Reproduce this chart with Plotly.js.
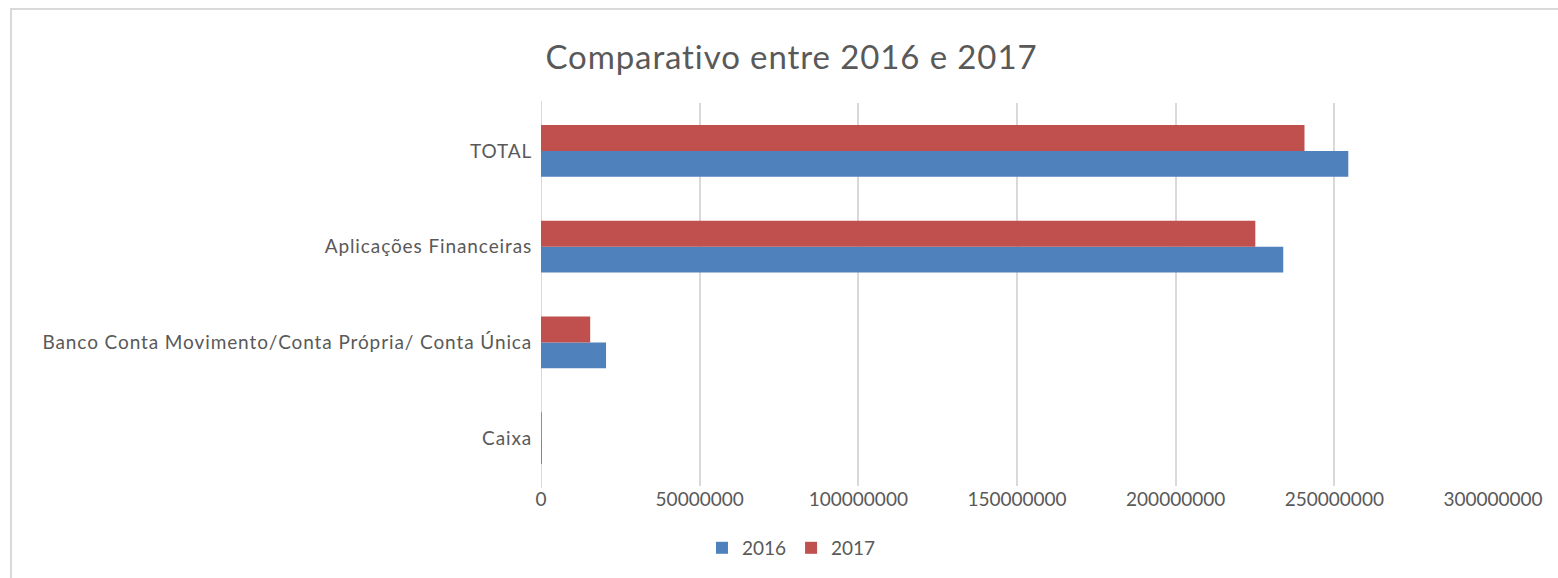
<!DOCTYPE html>
<html>
<head>
<meta charset="utf-8">
<script src="https://cdn.plot.ly/plotly-3.0.1.min.js"></script>
<style>
html,body{margin:0;padding:0;background:#fff;}
#wrap{position:relative;width:1558px;height:578px;overflow:hidden;}
#frame{position:absolute;left:10px;top:8px;width:1600px;height:620px;border-top:2px solid #d9d9d9;border-left:2px solid #d9d9d9;pointer-events:none;}
#chart{position:absolute;left:0;top:0;width:1558px;height:578px;}
#chart .ytick text{letter-spacing:0.9px;}
#chart .gtitle{letter-spacing:0.9px;}
</style>
</head>
<body>
<div id="wrap">
<div id="chart"></div>
<div id="frame"></div>
</div>
<script>
const categories = ["Caixa", "Banco Conta Movimento/Conta Própria/ Conta Única", "Aplicações Financeiras", "TOTAL"];
const values2016 = [280000, 20500000, 233900000, 254400000];
const values2017 = [220000, 15500000, 225100000, 240600000];
const tickValues = [0, 50000000, 100000000, 150000000, 200000000, 250000000, 300000000];
const tickLabels = ["0", "50000000", "100000000", "150000000", "200000000", "250000000", "300000000"];

const fontFam = "Lato, 'Open Sans', sans-serif";
const traces = [
  {type: "bar", orientation: "h", name: "2016", y: categories, x: values2016, marker: {color: "#4f81bd"}},
  {type: "bar", orientation: "h", name: "2017", y: categories, x: values2017, marker: {color: "#c0504d"}}
];
const layout = {
  width: 1558, height: 578,
  margin: {l: 541, r: 65, t: 103, b: 92, pad: 0},
  paper_bgcolor: "rgba(0,0,0,0)", plot_bgcolor: "rgba(0,0,0,0)",
  font: {family: fontFam, color: "#595959", size: 18},
  title: {text: "Comparativo entre 2016 e 2017", x: 0.508, xref: "container", y: 0.9, yref: "container", yanchor: "middle",
          font: {family: fontFam, size: 33, color: "#595959"}},
  barmode: "group", bargap: 0.46, bargroupgap: 0,
  xaxis: {range: [0, 300000000], tickvals: tickValues, ticktext: tickLabels, showgrid: true, gridcolor: "#d9d9d9", gridwidth: 2,
          zeroline: false, showline: false, ticks: "", ticklen: 0, tickfont: {size: 19, color: "#595959"}, fixedrange: true},
  yaxis: {type: "category", categoryorder: "array", categoryarray: categories, range: [-0.5, 3.5], showgrid: false,
          zeroline: false, showline: false, ticks: "outside", ticklen: 4, tickcolor: "rgba(0,0,0,0)", tickfont: {size: 19, color: "#595959"}},
  shapes: [{type: "line", xref: "x", yref: "paper", x0: 0, x1: 0, y0: -0.005, y1: 1.005, line: {color: "#d9d9d9", width: 2}, layer: "below"}],
  legend: {orientation: "h", x: 0.508, xref: "container", xanchor: "center", y: 0.052, yref: "container", yanchor: "middle",
           traceorder: "normal", font: {size: 19, color: "#595959"}, itemwidth: 30},
  showlegend: true
};
Plotly.newPlot("chart", traces, layout, {displayModeBar: false, staticPlot: true});
</script>
</body>
</html>
